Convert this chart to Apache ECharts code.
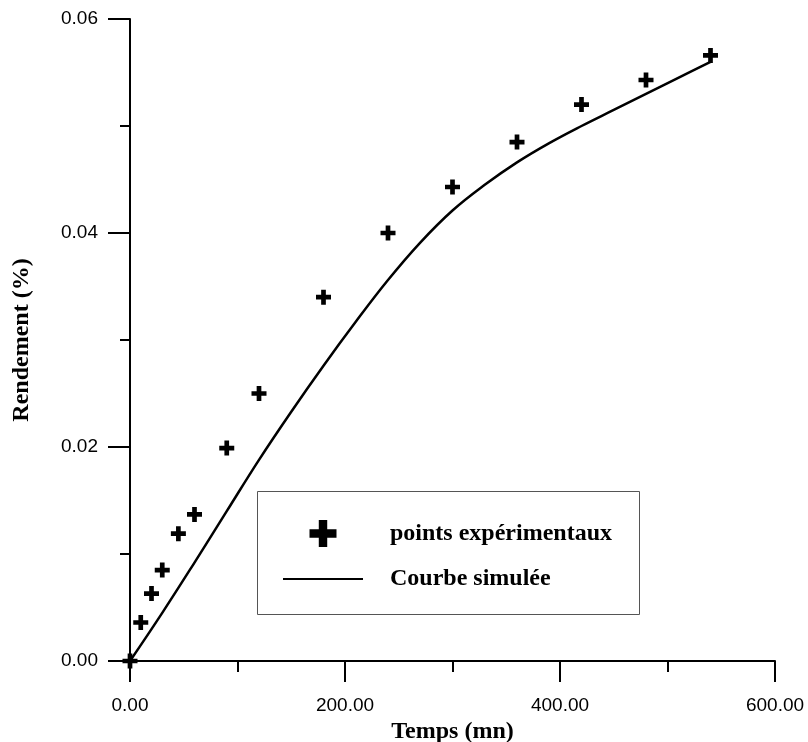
<!DOCTYPE html>
<html><head><meta charset="utf-8">
<script src="https://cdn.jsdelivr.net/npm/echarts@6/dist/echarts.min.js"></script>
<style>html,body{margin:0;padding:0;background:#fff}#c{width:808px;height:742px}</style>
</head><body><div id="c"></div>
<script>
var expX = [0, 10, 20, 30, 45, 60, 90, 120, 180, 240, 300, 360, 420, 480, 540];
var expY = [0, 0.0036, 0.0063, 0.0085, 0.0119, 0.0137, 0.0199, 0.0250, 0.0340, 0.0400, 0.0443, 0.0485, 0.0520, 0.0543, 0.0566];
var simX = [0, 30, 60, 90, 120, 150, 180, 210, 240, 270, 300, 330, 360, 390, 420, 450, 480, 510, 540];
var simY = [0, 0.0045, 0.0092, 0.0140, 0.0188, 0.0233, 0.0276, 0.0317, 0.0356, 0.0391, 0.0421, 0.0445, 0.0466, 0.0484, 0.0500, 0.0515, 0.0530, 0.0545, 0.0560];
var xTicks = [0, 200, 400, 600];
var yTicks = [0, 0.02, 0.04, 0.06];
var nameExp = 'points expérimentaux';
var nameSim = 'Courbe simulée';

var plus = 'path://M5.5,0H10.5V5.5H16V10.5H10.5V16H5.5V10.5H0V5.5H5.5Z';
var lineIcon = 'path://M0,0H80V2.2H0Z';
var chart = echarts.init(document.getElementById('c'));
var lbl = {fontFamily: 'Liberation Sans', fontSize: 19, color: '#000'};
var ttl = {fontFamily: 'Liberation Serif', fontWeight: 'bold', fontSize: 24, color: '#000'};
chart.setOption({
  animation: false,
  backgroundColor: '#fff',
  grid: {left: 130, top: 19, width: 645, height: 642, containLabel: false, outerBoundsMode: 'none'},
  xAxis: {
    type: 'value', min: xTicks[0], max: xTicks[xTicks.length-1], interval: 200,
    name: 'Temps (mn)', nameLocation: 'middle', nameGap: 55, nameTextStyle: ttl,
    axisLine: {lineStyle: {color: '#000', width: 2}},
    axisTick: {length: 21, lineStyle: {color: '#000', width: 2}},
    minorTick: {show: true, splitNumber: 2, length: 11, lineStyle: {color: '#000', width: 2}},
    splitLine: {show: false},
    axisLabel: Object.assign({margin: 35, formatter: function(v){return v.toFixed(2);}}, lbl)
  },
  yAxis: {
    type: 'value', min: yTicks[0], max: yTicks[yTicks.length-1], interval: 0.02,
    name: 'Rendement (%)', nameLocation: 'middle', nameGap: 96, nameTextStyle: ttl,
    axisLine: {lineStyle: {color: '#000', width: 2}},
    axisTick: {length: 22, lineStyle: {color: '#000', width: 2}},
    minorTick: {show: true, splitNumber: 2, length: 10, lineStyle: {color: '#000', width: 2}},
    splitLine: {show: false},
    axisLabel: Object.assign({margin: 32, formatter: function(v){return v.toFixed(2);}}, lbl)
  },
  legend: {
    orient: 'vertical', left: 283, top: 520, padding: 0, itemGap: 20,
    itemWidth: 80, itemHeight: 27,
    textStyle: Object.assign({padding: [0, 0, 0, 22]}, ttl),
    data: [{name: nameExp, icon: plus}, {name: nameSim, icon: lineIcon}]
  },
  graphic: [{
    type: 'rect', shape: {x: 257.5, y: 491.5, width: 382, height: 123},
    style: {fill: 'rgba(0,0,0,0)', stroke: '#555', lineWidth: 1}, z: 100, silent: true
  }],
  series: [{
    name: nameSim, type: 'line', smooth: 0.4, symbol: 'none',
    lineStyle: {color: '#000', width: 2.5}, itemStyle: {color: '#000'},
    data: simX.map(function(x, i){return [x, simY[i]];})
  }, {
    name: nameExp, type: 'scatter', symbol: plus, symbolSize: 15,
    itemStyle: {color: '#000', opacity: 1}, z: 5,
    data: expX.map(function(x, i){return [x, expY[i]];})
  }]
});
</script></body></html>
